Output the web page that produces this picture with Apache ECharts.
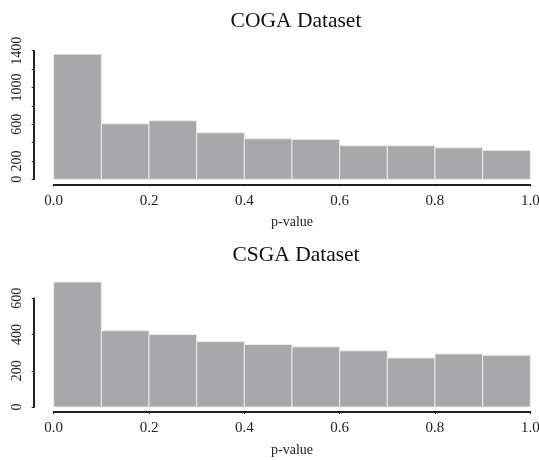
<!DOCTYPE html>
<html><head><meta charset="utf-8">
<script src="https://cdn.jsdelivr.net/npm/echarts@6/dist/echarts.min.js"></script>
<style>html,body{margin:0;padding:0;background:#fff}#c{width:539px;height:460px}</style>
</head><body><div id="c"></div>
<script>
// bin edges (p-value)
var binEdges = [0.0,0.1,0.2,0.3,0.4,0.5,0.6,0.7,0.8,0.9,1.0];
// counts per bin
var cogaCounts = [1362, 604, 637, 507, 441, 435, 365, 365, 343, 315];
var csgaCounts = [690, 421, 400, 361, 345, 332, 310, 271, 293, 286];
var xTickLabels = ['0.0','0.2','0.4','0.6','0.8','1.0'];
var cogaYTickLabels = ['0','200','','600','','1000','','1400'];
var csgaYTickLabels = ['0','200','400','600'];
var titles = ['COGA Dataset','CSGA Dataset'];

var FONT = 'Liberation Serif';
function binsData(counts){
  return counts.map(function(v,i){return [binEdges[i], binEdges[i+1], v];});
}
function renderBin(params, api){
  var p0 = api.coord([api.value(0), api.value(2)]);
  var p1 = api.coord([api.value(1), 0]);
  return {type:'rect', shape:{x:p0[0], y:p0[1], width:p1[0]-p0[0], height:p1[1]-p0[1]},
    style:{fill:'#a8a8ab', stroke:'#ebebeb', lineWidth:1}};
}
function xAxisOpt(gi){
  return {type:'value', gridIndex:gi, min:0, max:1, interval:0.2, offset:5,
    name:'p-value', nameLocation:'middle', nameGap:31,
    nameTextStyle:{fontFamily:FONT, fontSize:14, color:'#222'},
    axisLine:{show:true, onZero:false, lineStyle:{color:'#222', width:2}},
    axisTick:{show:true, length:2, lineStyle:{color:'#222'}},
    axisLabel:{fontFamily:FONT, fontSize:15, color:'#222', margin:9,
      formatter:function(v){return xTickLabels[Math.round(v/0.2)];}},
    splitLine:{show:false}};
}
function yAxisOpt(gi, max, labels){
  return {type:'value', gridIndex:gi, min:0, max:max, interval:200, offset:20,
    axisLine:{show:true, onZero:false, lineStyle:{color:'#222', width:2}},
    axisTick:{show:true, length:2, lineStyle:{color:'#222'}},
    axisLabel:{fontFamily:FONT, fontSize:14, color:'#222', rotate:90, margin:9,
      formatter:function(v){return labels[Math.round(v/200)];}},
    splitLine:{show:false}};
}
var chart = echarts.init(document.getElementById('c'));
chart.setOption({
  animation:false,
  title:[
    {text:titles[0], left:291, top:5, textAlign:'center', textStyle:{fontFamily:FONT, fontSize:21.5, fontWeight:'normal', color:'#111'}},
    {text:titles[1], left:291, top:239, textAlign:'center', textStyle:{fontFamily:FONT, fontSize:21.5, fontWeight:'normal', color:'#111'}}
  ],
  grid:[
    {left:53.7, right:8.7, top:50.7, bottom:280.7, outerBoundsMode:'none', containLabel:false},
    {left:53.7, right:8.7, top:298.3, bottom:53, outerBoundsMode:'none', containLabel:false}
  ],
  xAxis:[xAxisOpt(0), xAxisOpt(1)],
  yAxis:[yAxisOpt(0,1400,cogaYTickLabels), yAxisOpt(1,600,csgaYTickLabels)],
  series:[
    {type:'custom', xAxisIndex:0, yAxisIndex:0, renderItem:renderBin, data:binsData(cogaCounts), clip:false},
    {type:'custom', xAxisIndex:1, yAxisIndex:1, renderItem:renderBin, data:binsData(csgaCounts), clip:false}
  ]
});
</script></body></html>
